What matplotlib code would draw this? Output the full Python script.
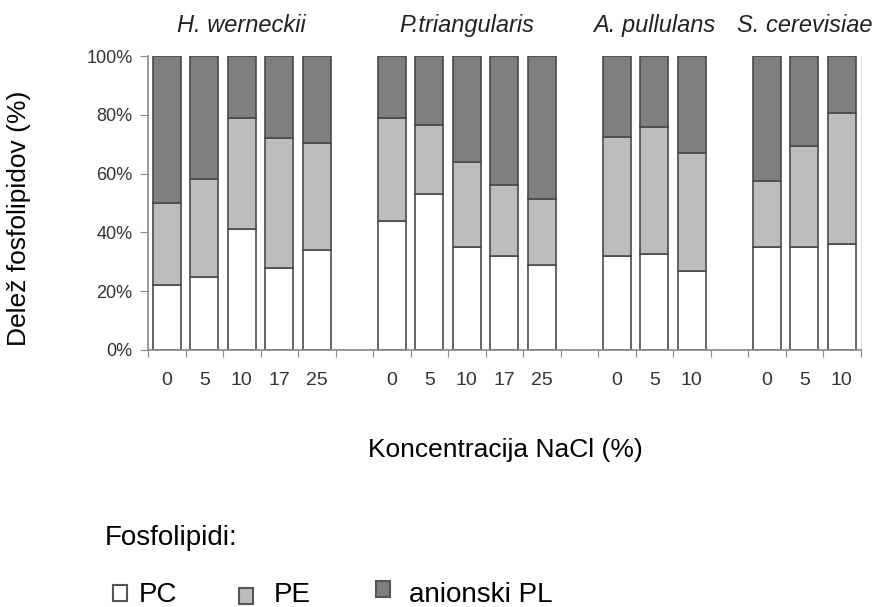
import numpy as np
import matplotlib.pyplot as plt

plt.rcParams['font.family'] = ['Liberation Sans', 'DejaVu Sans']

# vrste kvasovk in koncentracije NaCl (%)
vrste = ['H. werneckii', 'P.triangularis', 'A. pullulans', 'S. cerevisiae']
koncentracije = [
    ['0', '5', '10', '17', '25'],
    ['0', '5', '10', '17', '25'],
    ['0', '5', '10'],
    ['0', '5', '10'],
]

# delezi fosfolipidov (%) po vrstah
pc = [
    [22, 25, 41, 28, 34],
    [44, 53, 35, 32, 29],
    [32, 32.5, 27],
    [35, 35, 36],
]
pe = [
    [28, 33, 38, 44, 36.5],
    [35, 23.5, 29, 24, 22.5],
    [40.5, 43.5, 40],
    [22.5, 34.5, 44.5],
]
anionski = [
    [50, 42, 21, 28, 29.5],
    [21, 23.5, 36, 44, 48.5],
    [27.5, 24, 33],
    [42.5, 30.5, 19.5],
]

barve = ['white', '#bdbdbd', '#7f7f7f']
rob = '#4a4a4a'

fig = plt.figure(figsize=(8.81, 6.07), dpi=100)
ax = fig.add_axes([0.168, 0.4234, 0.8088, 0.4843])

# polozaji stolpcev: skupine locene s praznim mestom
pozicije = []
zacetek = 0
for k in koncentracije:
    pozicije.append(np.arange(len(k)) + zacetek + 0.5)
    zacetek += len(k) + 1
n_mest = zacetek - 1

for i in range(len(vrste)):
    x = pozicije[i]
    a = np.array(pc[i], dtype=float)
    b = np.array(pe[i], dtype=float)
    c = np.array(anionski[i], dtype=float)
    kw = dict(width=0.75, edgecolor=rob, linewidth=1.2)
    ax.bar(x, a, color=barve[0], **kw)
    ax.bar(x, b, bottom=a, color=barve[1], **kw)
    ax.bar(x, c, bottom=a + b, color=barve[2], **kw)
    ax.text(x.mean(), 1.105, vrste[i], transform=ax.get_xaxis_transform(),
            ha='center', va='center', fontsize=17, style='italic',
            color='#222222')

ax.set_xlim(0, n_mest)
ax.set_ylim(0, 100)

ax.set_yticks([0, 20, 40, 60, 80, 100])
ax.set_yticklabels(['0%', '20%', '40%', '60%', '80%', '100%'], fontsize=13,
                   color='#333333')
ax.tick_params(axis='y', length=6, color='#888888', pad=5)

ax.set_xticks(np.arange(0, n_mest + 1))
ax.set_xticklabels([])
ax.tick_params(axis='x', which='major', length=5, color='#888888')
ax.set_xticks(np.concatenate(pozicije), minor=True)
ax.set_xticklabels(sum(koncentracije, []), minor=True, fontsize=14,
                   color='#333333')
ax.tick_params(axis='x', which='minor', length=0, pad=16)

for s in ['left', 'bottom']:
    ax.spines[s].set_color('#888888')
    ax.spines[s].set_linewidth(1.2)
ax.spines['right'].set_color('#dddddd')
ax.spines['top'].set_visible(False)

fig.text(0.021, 0.641, 'Delež fosfolipidov (%)', rotation=90,
         ha='center', va='center', fontsize=19)
fig.text(0.574, 0.259, 'Koncentracija NaCl (%)', ha='center', va='center',
         fontsize=19)
fig.text(0.119, 0.102, 'Fosfolipidi:', ha='left', va='baseline', fontsize=20)

# legenda
oznake = ['PC', 'PE', 'anionski PL']
x_kvadrat = [0.128, 0.271, 0.427]
y_kvadrat = [0.010, 0.005, 0.016]
x_besedilo = [0.158, 0.311, 0.464]
for xk, yk, xb, barva, besedilo in zip(x_kvadrat, y_kvadrat, x_besedilo,
                                        barve, oznake):
    fig.patches.append(plt.Rectangle((xk, yk), 0.016, 0.027,
                                     transform=fig.transFigure,
                                     facecolor=barva, edgecolor='#555555',
                                     linewidth=1.5))
    fig.text(xb, 0.008, besedilo, ha='left', va='baseline', fontsize=20)

fig.savefig('out.png', dpi=100)
